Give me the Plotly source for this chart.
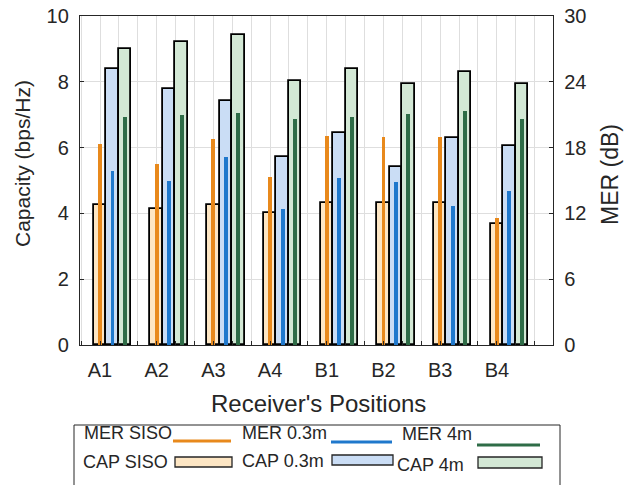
import numpy as np
import plotly.graph_objects as go

# Receiver positions and measured results
positions = ["A1", "A2", "A3", "A4", "B1", "B2", "B3", "B4"]

# Capacity (bps/Hz)
cap_siso = [4.27, 4.12, 4.27, 4.00, 4.32, 4.32, 4.32, 3.67]
cap_03m = [8.40, 7.77, 7.42, 5.72, 6.43, 5.40, 6.28, 6.04]
cap_4m = [9.01, 9.21, 9.43, 8.03, 8.40, 7.93, 8.30, 7.93]

# MER (dB)
mer_siso = [18.3, 16.5, 18.8, 15.3, 19.1, 19.0, 19.0, 11.6]
mer_03m = [15.9, 15.0, 17.1, 12.4, 15.2, 14.9, 12.7, 14.0]
mer_4m = [20.8, 20.95, 21.2, 20.65, 20.8, 21.1, 21.3, 20.65]

FONT = "Liberation Sans, Arial, sans-serif"
AX = "#262626"
GRID = "#DEDEDE"

C_ORANGE = "#E8891C"
C_BLUE = "#1F78CC"
C_GREEN = "#2E6C47"
F_ORANGE = "#FDE6C4"
F_BLUE = "#CADDF5"
F_GREEN = "#D3E8D5"

W, H = 632, 485
ML, MR, MT, MB = 80, 79, 16, 140
PW, PH = W - ML - MR, H - MT - MB

base = np.arange(1, len(positions) + 1, dtype=float)
offsets = [0.0, 0.22, 0.44]
cap_w = 0.22
mer_w = 0.07

fig = go.Figure()

cap_series = [(cap_siso, F_ORANGE), (cap_03m, F_BLUE), (cap_4m, F_GREEN)]
for (vals, fill), off in zip(cap_series, offsets):
    fig.add_trace(go.Bar(
        x=base + off, y=vals, width=cap_w, yaxis="y",
        marker=dict(color=fill, line=dict(color="black", width=1.8)),
        showlegend=False, hoverinfo="skip",
    ))

mer_series = [(mer_siso, C_ORANGE), (mer_03m, C_BLUE), (mer_4m, C_GREEN)]
for (vals, col), off in zip(mer_series, offsets):
    fig.add_trace(go.Bar(
        x=base + off, y=vals, width=mer_w, yaxis="y2",
        marker=dict(color=col, line=dict(width=0)),
        showlegend=False, hoverinfo="skip",
    ))

# x ticks every third of a position, labelled only at the positions
xt = np.arange(2 / 3, 9.0, 1 / 3)
xt_text = []
for v in xt:
    k = int(round(v))
    xt_text.append(positions[k - 1] if abs(v - k) < 1e-6 and 1 <= k <= len(positions) else "")

axis_common = dict(
    showline=True, linecolor=AX, linewidth=1.3,
    ticks="inside", ticklen=4, tickcolor=AX, tickwidth=1,
    zeroline=False, tickfont=dict(family=FONT, size=20, color=AX),
)

fig.update_layout(
    width=W, height=H,
    margin=dict(l=ML, r=MR, t=MT, b=MB, autoexpand=False),
    paper_bgcolor="white", plot_bgcolor="white",
    barmode="overlay", bargap=0,
    showlegend=False,
    xaxis=dict(
        range=[0.647, 8.99], tickmode="array", tickvals=xt, ticktext=xt_text,
        showgrid=True, gridcolor=GRID, gridwidth=1, mirror=True,
        ticklabelstandoff=7, **axis_common,
    ),
    yaxis=dict(
        range=[0, 10], tickmode="array", tickvals=list(range(0, 11, 2)),
        showgrid=True, gridcolor=GRID, gridwidth=1, mirror=True,
        ticklabelstandoff=6, **axis_common,
    ),
    yaxis2=dict(
        range=[0, 30], tickmode="array", tickvals=list(range(0, 31, 6)),
        overlaying="y", side="right", showgrid=False,
        ticklabelstandoff=6, **axis_common,
    ),
)


def px(xp):
    return (xp - ML) / PW


def py(yp):
    return (H - MB - yp) / PH


def text(s, x, y, size, angle=0, xanchor="center"):
    fig.add_annotation(
        text=s, x=px(x), y=py(y), xref="paper", yref="paper",
        showarrow=False, textangle=angle, xanchor=xanchor, yanchor="middle",
        font=dict(family=FONT, size=size, color=AX),
    )


# axis titles
text("Capacity (bps/Hz)", 23, 164, 21, angle=-90)
text("MER (dB)", 610, 175, 23, angle=-90)
text("Receiver's Positions", 318, 403, 24)

# legend box
fig.add_shape(type="rect", xref="paper", yref="paper",
              x0=px(74), x1=px(560), y0=py(492), y1=py(425),
              line=dict(color=AX, width=1), fillcolor="white", layer="above")

LEG = 18
leg_lines = [("MER SISO", 82, 433, C_ORANGE, 173, 231, 441),
             ("MER 0.3m", 240, 433, C_BLUE, 331, 392, 442),
             ("MER 4m", 400, 434, C_GREEN, 477, 540, 445)]
for label, tx, ty, col, x0, x1, ly in leg_lines:
    text(label, tx, ty, LEG, xanchor="left")
    fig.add_shape(type="line", xref="paper", yref="paper",
                  x0=px(x0), x1=px(x1), y0=py(ly), y1=py(ly),
                  line=dict(color=col, width=3), layer="above")

leg_boxes = [("CAP SISO", 81, 462, F_ORANGE, 175, 232, 457, 467),
             ("CAP 0.3m", 240, 461, F_BLUE, 332, 393, 455, 465),
             ("CAP 4m", 395, 465, F_GREEN, 478, 542, 457, 468)]
for label, tx, ty, fill, x0, x1, y0, y1 in leg_boxes:
    text(label, tx, ty, LEG, xanchor="left")
    fig.add_shape(type="rect", xref="paper", yref="paper",
                  x0=px(x0), x1=px(x1), y0=py(y1), y1=py(y0),
                  line=dict(color=AX, width=1.3), fillcolor=fill, layer="above")

fig.write_html("out.html")
